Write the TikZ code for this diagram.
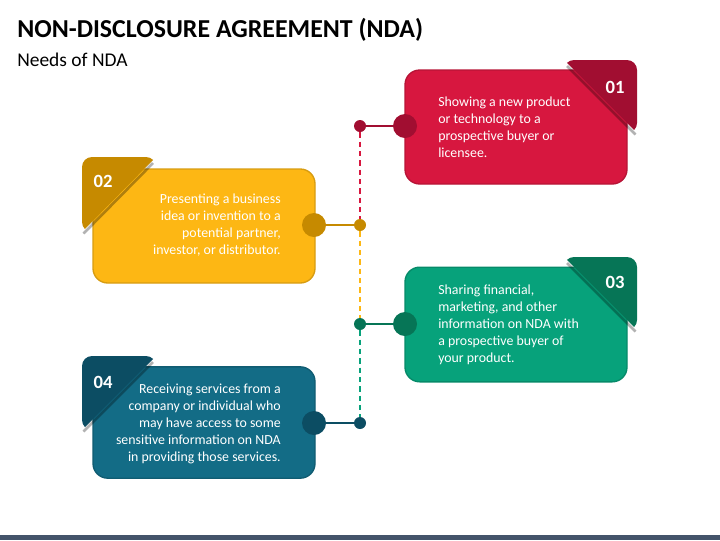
\documentclass[tikz,border=0pt]{standalone}
\usepackage{fontspec}
\setmainfont{Carlito}
\definecolor{redF}{HTML}{D7173F}
\definecolor{redD}{HTML}{A10E31}
\definecolor{yelF}{HTML}{FDB714}
\definecolor{yelD}{HTML}{C68A00}
\definecolor{grnF}{HTML}{07A27B}
\definecolor{grnD}{HTML}{067556}
\definecolor{tealF}{HTML}{136C86}
\definecolor{tealD}{HTML}{0C4D63}
\definecolor{barc}{HTML}{44546A}
\begin{document}
\begin{tikzpicture}[x=0.75pt,y=-0.75pt,
  box/.style={rounded corners=11pt, inner sep=0, line width=1pt},
  bigdot/.style={circle, inner sep=0, minimum size=18pt},
  smalldot/.style={circle, inner sep=0, minimum size=9pt},
  link/.style={line width=1.5pt},
  dashline/.style={line width=1.5pt, dash pattern=on 4pt off 3pt},
  bodytxt/.style={text=white, inner sep=0, font=\fontsize{10.4}{12.75}\selectfont},
  numtxt/.style={text=white, inner sep=0, font=\bfseries\fontsize{14}{16}\selectfont},
  tabshadow/.style={line width=2pt, black, opacity=0.3}]
\useasboundingbox (0,0) rectangle (720,540);
\fill[barc] (0,535) rectangle (720,540);
\node[anchor=base west, inner sep=0, font=\bfseries\fontsize{19.4}{23}\selectfont] (title) at (17,37) {NON-DISCLOSURE AGREEMENT (NDA)};
\node[anchor=base west, inner sep=0, font=\fontsize{14.6}{17}\selectfont] (sub) at (17,66) {Needs of NDA};

% boxes
\node[box, fill=redF, draw=redF!85!black, minimum width=166.5pt, minimum height=85.5pt] (b1) at (516,127) {};
\node[box, fill=yelF, draw=yelF!85!black, minimum width=166.5pt, minimum height=85.5pt] (b2) at (204,226) {};
\node[box, fill=grnF, draw=grnF!85!black, minimum width=166.5pt, minimum height=86pt] (b3) at (516,324.5) {};
\node[box, fill=tealF, draw=tealF!85!black, minimum width=166.5pt, minimum height=83.5pt] (b4) at (204,422.5) {};

% tabs
\draw[tabshadow] (567,66) -- (635.5,134.5);
\begin{scope}
\clip[rounded corners=7.5pt] (564,60) rectangle (637,133);
\fill[redD] (564,60) -- (637,60) -- (637,133) -- cycle;
\end{scope}
\draw[tabshadow] (153,163) -- (83.5,233.5);
\begin{scope}
\clip[rounded corners=7.5pt] (82,157) rectangle (156,232);
\fill[yelD] (82,157) -- (156,157) -- (82,232) -- cycle;
\end{scope}
\draw[tabshadow] (567,263) -- (635.5,331.5);
\begin{scope}
\clip[rounded corners=7.5pt] (564,257) rectangle (637,330);
\fill[grnD] (564,257) -- (637,257) -- (637,330) -- cycle;
\end{scope}
\draw[tabshadow] (153,362) -- (83.5,431.5);
\begin{scope}
\clip[rounded corners=7.5pt] (82,356) rectangle (156,430);
\fill[tealD] (82,356) -- (156,356) -- (82,430) -- cycle;
\end{scope}

\node[numtxt] (n1) at (615,87) {01};
\node[numtxt] (n2) at (103,181) {02};
\node[numtxt] (n3) at (615,282) {03};
\node[numtxt] (n4) at (103,382) {04};

% dots
\node[bigdot, fill=redD] (c1) at (405,126) {};
\node[smalldot, fill=redD] (d1) at (360,126) {};
\node[bigdot, fill=yelD] (c2) at (314,225) {};
\node[smalldot, fill=yelD] (d2) at (360,225) {};
\node[bigdot, fill=grnD] (c3) at (405,324) {};
\node[smalldot, fill=grnD] (d3) at (360,324) {};
\node[bigdot, fill=tealD] (c4) at (314,423) {};
\node[smalldot, fill=tealD] (d4) at (360,423) {};

\draw[link, redD] (d1) -- (c1);
\draw[link, yelD] (d2) -- (c2);
\draw[link, grnD] (d3) -- (c3);
\draw[link, tealD] (d4) -- (c4);

\draw[dashline, redF] (d1) -- (d2);
\draw[dashline, yelF] (d2) -- (d3);
\draw[dashline, grnF] (d3) -- (d4);

% texts
\node[bodytxt, align=left, anchor=west] (t1) at (438,127.5) {Showing a new product\\or technology to a\\prospective buyer or\\licensee.};
\node[bodytxt, align=right, anchor=east] (t2) at (281,225.5) {Presenting a business\\idea or invention to a\\potential partner,\\investor, or distributor.};
\node[bodytxt, align=left, anchor=west] (t3) at (438,325) {Sharing financial,\\marketing, and other\\information on NDA with\\a prospective buyer of\\your product.};
\node[bodytxt, align=right, anchor=east] (t4) at (281,424) {Receiving services from a\\company or individual who\\may have access to some\\sensitive information on NDA\\in providing those services.};
\end{tikzpicture}
\end{document}
